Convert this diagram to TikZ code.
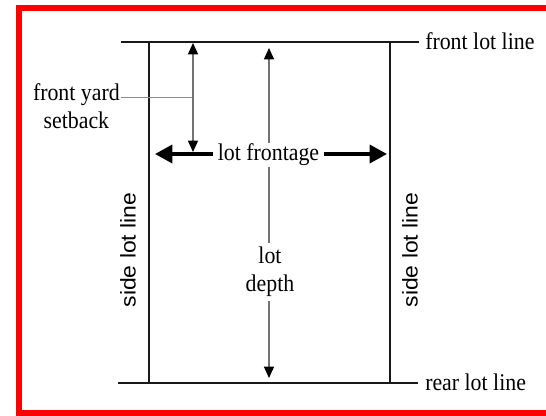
\documentclass[tikz,border=0pt]{standalone}
\usepackage{fontspec}
\setmainfont{Liberation Serif}
\newfontfamily\sidefont{Liberation Sans}
\usetikzlibrary{arrows.meta}
% horizontal labels are set slightly narrow
\newcommand\narrowtxt[1]{\scalebox{0.91}[1]{#1}}
\newcommand\longtxt[1]{\scalebox{1.075}[1]{#1}}
\begin{document}
\begin{tikzpicture}[x=0.75pt,y=-0.75pt,
  lotline/.style={line width=1.6pt,black!90},
  dimthin/.style={line width=1.1pt,black!55,{Triangle[length=8.5pt,width=7.5pt,black]}-{Triangle[length=8.5pt,width=7.5pt,black]}},
  dimthick/.style={line width=2.6pt,black,{Triangle[length=13pt,width=13.5pt]}-{Triangle[length=13pt,width=13.5pt]}},
  leader/.style={line width=0.6pt,black!45},
  lbl/.style={inner sep=0pt,text=black,font=\fontsize{18}{21}\selectfont},
  cut/.style={lbl,fill=white},
  sidelbl/.style={inner sep=0pt,text=black,rotate=90,font=\sidefont\fontsize{16}{18}\selectfont}
]
% page and frame
\fill[white] (0,0) rectangle (546,415);
\begin{scope}
  \clip (0,0) rectangle (546,415);
  \draw[red,line width=4.5pt] (19,8) rectangle (600,413);
\end{scope}

% corner points of the lot
\coordinate (fl) at (121,42);
\coordinate (fr) at (419,42);
\coordinate (rl) at (118,383);
\coordinate (rr) at (418,383);
\coordinate (sl1) at (149,42);
\coordinate (sl2) at (149,383);
\coordinate (sr1) at (390,42);
\coordinate (sr2) at (390,383);

% lot lines
\draw[lotline] (fl) -- (fr);
\draw[lotline] (rl) -- (rr);
\draw[lotline] (sl1) -- (sl2);
\draw[lotline] (sr1) -- (sr2);

% dimension points
\coordinate (sb1) at (193,43);
\coordinate (sb2) at (193,152);
\coordinate (ld1) at (269,48);
\coordinate (ld2) at (269,378);
\coordinate (fa1) at (155,154);
\coordinate (fa2) at (387,154);
\coordinate (ldr1) at (121,97);
\coordinate (ldr2) at (193,97);

% setback leader and dimensions
\draw[leader] (ldr1) -- (ldr2);
\draw[dimthin] (sb1) -- (sb2);
\draw[dimthin] (ld1) -- (ld2);
\draw[dimthick] (fa1) -- (fa2);

% labels
\node[cut,inner xsep=4pt,inner ysep=1pt] (front) at (268.5,155) {\narrowtxt{lot frontage}};
\node[cut,align=center,inner sep=3pt] (depth) at (270,272) {\narrowtxt{lot}\\\narrowtxt{depth}};
\node[lbl,align=center,anchor=east] (fys) at (120,106) {\narrowtxt{front yard}\\\narrowtxt{setback}};
\node[lbl,anchor=west] (flt) at (425,41) {\narrowtxt{front lot line}};
\node[lbl,anchor=west] (rlt) at (425,382) {\narrowtxt{rear lot line}};
\node[sidelbl] (sll) at (128,250) {\longtxt{side lot line}};
\node[sidelbl] (slr) at (410,250) {\longtxt{side lot line}};
\end{tikzpicture}
\end{document}
